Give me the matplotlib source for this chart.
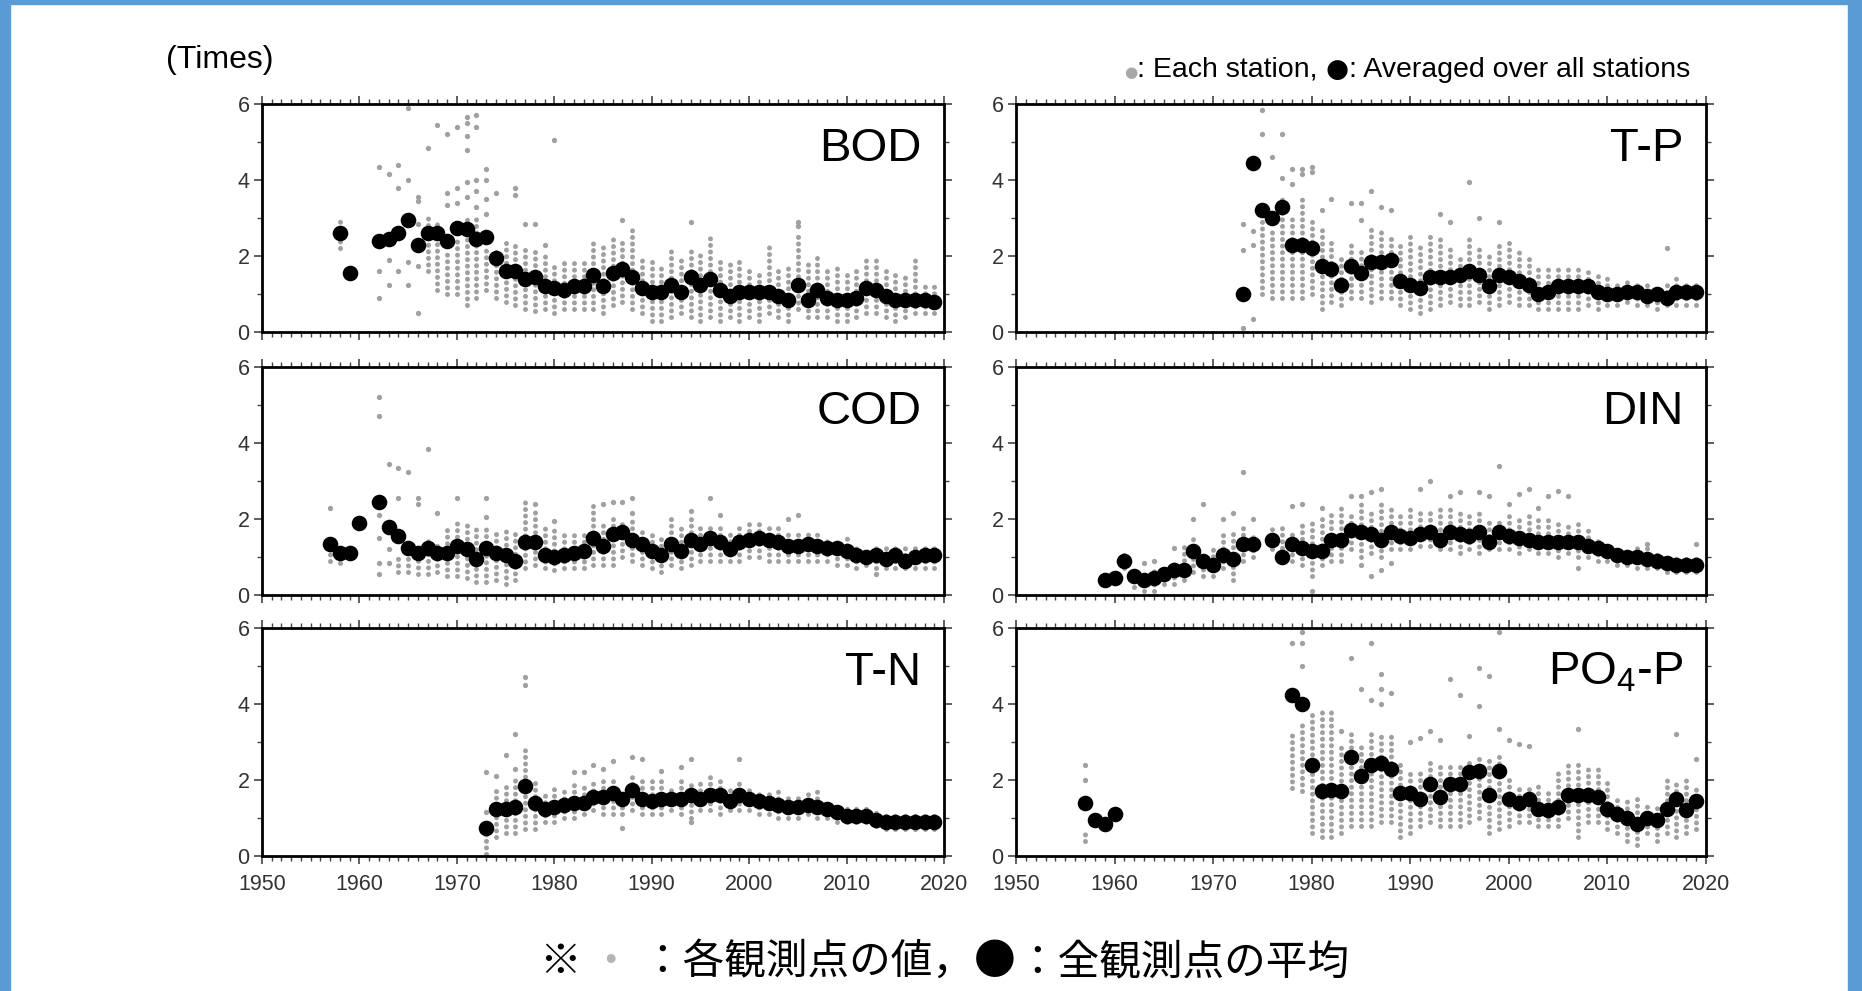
import numpy as np
import matplotlib
matplotlib.use("Agg")
import matplotlib.pyplot as plt
from matplotlib.ticker import MultipleLocator, FixedLocator
from matplotlib.patches import Rectangle

plt.rcParams['font.family'] = ['Liberation Sans', 'DejaVu Sans']
plt.rcParams['mathtext.fontset'] = 'custom'
plt.rcParams['mathtext.rm'] = 'Liberation Sans'
plt.rcParams['mathtext.it'] = 'Liberation Sans'

nan = np.nan

# ---------------- BOD ----------------
bod_years = [1958, 1959] + list(range(1962, 2020))
bod_mean = [2.6, 1.55,
            2.4, 2.45, 2.6, 2.95, 2.3, 2.6, 2.6, 2.4, 2.75, 2.7, 2.45, 2.5, 1.95, 1.6, 1.6, 1.4, 1.45, 1.2,
            1.15, 1.1, 1.2, 1.2, 1.5, 1.2, 1.55, 1.65, 1.45, 1.15,
            1.05, 1.05, 1.25, 1.05, 1.45, 1.25, 1.4, 1.1, 0.95, 1.05,
            1.05, 1.05, 1.05, 0.95, 0.85, 1.25, 0.85, 1.1, 0.9, 0.85,
            0.85, 0.9, 1.15, 1.1, 0.95, 0.85, 0.85, 0.85, 0.85, 0.8]
bod_lo = [2.2, nan,
          nan, nan, nan, nan, nan, 1.6, 1.1, 1.0, 1.0, 0.7, 0.9, 1.1, 0.9, 0.8, 0.7, 0.6, 0.55, 0.6,
          0.5, 0.6, 0.6, 0.6, 0.6, 0.5, 0.7, 0.8, 0.6, 0.5,
          0.3, 0.3, 0.4, 0.5, 0.4, 0.3, 0.4, 0.3, 0.4, 0.3,
          0.4, 0.3, 0.5, 0.4, 0.3, 0.6, 0.4, 0.4, 0.4, 0.3,
          0.3, 0.4, 0.5, 0.5, 0.4, 0.3, 0.4, 0.5, 0.5, 0.5]
bod_hi = [3.0, nan,
          nan, nan, nan, nan, nan, 3.0, 2.9, 2.1, 2.4, 3.0, 3.0, 2.3, 2.1, 2.4, 2.3, 2.2, 2.1, 2.0,
          1.8, 1.9, 1.9, 1.9, 2.5, 2.3, 2.6, 2.4, 2.7, 1.9,
          1.9, 1.8, 2.2, 1.9, 2.2, 2.1, 2.5, 2.0, 1.8, 1.9,
          1.7, 1.6, 2.3, 1.7, 1.7, 2.6, 1.8, 2.0, 1.6, 1.7,
          1.6, 1.7, 1.9, 2.0, 1.6, 1.5, 1.5, 1.9, 1.3, 1.3]
bod_out = [(1962, 4.35), (1962, 1.6), (1962, 0.9), (1963, 4.15), (1963, 1.9), (1963, 1.25),
           (1964, 4.4), (1964, 3.8), (1964, 1.6), (1965, 5.9), (1965, 4.0), (1965, 1.85), (1965, 1.25),
           (1966, 3.55), (1966, 3.45), (1966, 2.85), (1966, 1.75), (1966, 0.5),
           (1967, 4.85), (1968, 5.45), (1969, 5.2), (1969, 3.65), (1969, 3.35),
           (1970, 5.4), (1970, 3.8), (1970, 3.4),
           (1971, 5.65), (1971, 5.5), (1971, 5.15), (1971, 4.8), (1971, 3.95), (1971, 3.55),
           (1972, 5.7), (1972, 5.4), (1972, 4.0), (1972, 3.7), (1972, 3.3),
           (1973, 4.3), (1973, 4.0), (1973, 3.5), (1973, 3.1),
           (1974, 3.65), (1976, 3.8), (1976, 3.6), (1977, 2.85), (1978, 2.85), (1979, 2.3),
           (1980, 5.05), (1987, 2.95), (1994, 2.9), (2005, 2.9), (2005, 2.8)]

# ---------------- T-P ----------------
tp_years = list(range(1973, 2020))
tp_mean = [1.0, 4.45, 3.2, 3.0, 3.3, 2.3, 2.3,
           2.2, 1.75, 1.65, 1.25, 1.75, 1.55, 1.85, 1.85, 1.9, 1.35,
           1.25, 1.15, 1.45, 1.45, 1.45, 1.5, 1.6, 1.5, 1.2, 1.5,
           1.45, 1.35, 1.25, 1.0, 1.05, 1.2, 1.2, 1.2, 1.2, 1.05,
           1.0, 1.0, 1.05, 1.05, 0.95, 1.0, 0.9, 1.05, 1.05, 1.05]
tp_lo = [nan, nan, 1.0, 0.9, 0.9, 0.9, 0.9,
         1.0, 0.6, 0.8, 0.7, 0.9, 0.9, 0.8, 0.9, 0.9, 0.7,
         0.6, 0.5, 0.6, 0.7, 0.8, 0.7, 0.7, 0.8, 0.6, 0.7,
         0.8, 0.7, 0.7, 0.6, 0.6, 0.6, 0.6, 0.6, 0.7, 0.6,
         0.7, 0.7, 0.8, 0.7, 0.7, 0.6, 0.7, 0.7, 0.7, 0.7]
tp_hi = [nan, nan, 3.0, 2.8, 3.5, 3.0, 3.5,
         3.0, 2.8, 2.5, 2.0, 2.3, 2.2, 2.8, 2.7, 2.5, 2.3,
         2.6, 2.4, 2.6, 2.5, 2.2, 2.0, 2.6, 2.2, 2.1, 2.4,
         2.5, 2.2, 2.0, 1.8, 1.7, 1.8, 1.8, 1.7, 1.6, 1.5,
         1.5, 1.4, 1.4, 1.4, 1.3, 1.3, 1.4, 1.5, 1.4, 1.4]
tp_out = [(1973, 2.85), (1973, 2.15), (1973, 0.1), (1974, 2.65), (1974, 2.3), (1974, 0.35),
          (1975, 5.85), (1975, 5.2), (1976, 4.6), (1977, 5.2), (1977, 4.05),
          (1978, 4.3), (1978, 3.9), (1979, 4.3), (1979, 4.15), (1980, 4.35), (1980, 4.2),
          (1981, 3.2), (1982, 3.5), (1984, 3.4), (1985, 3.4), (1985, 2.95), (1986, 3.7),
          (1987, 3.3), (1988, 3.2), (1993, 3.1), (1994, 2.9), (1996, 3.95), (1997, 3.0),
          (1999, 2.9), (2016, 2.2)]

# ---------------- COD ----------------
cod_years = [1957, 1958, 1959, 1960] + list(range(1962, 2020))
cod_mean = [1.35, 1.1, 1.1, 1.9,
            2.45, 1.8, 1.55, 1.25, 1.1, 1.25, 1.1, 1.1,
            1.3, 1.2, 0.95, 1.25, 1.1, 1.05, 0.9, 1.4, 1.4, 1.05,
            1.0, 1.05, 1.1, 1.15, 1.5, 1.3, 1.6, 1.65, 1.45, 1.35,
            1.15, 1.05, 1.35, 1.15, 1.45, 1.35, 1.5, 1.4, 1.2, 1.4,
            1.45, 1.5, 1.45, 1.4, 1.3, 1.3, 1.35, 1.3, 1.25, 1.25,
            1.15, 1.05, 1.0, 1.05, 0.95, 1.05, 0.9, 1.0, 1.05, 1.05]
cod_lo = [0.9, 0.85, nan, nan,
          nan, nan, 0.6, 0.6, 0.55, 0.55, 0.6, 0.5,
          0.5, 0.45, 0.35, 0.35, 0.4, 0.3, 0.4, 0.7, 0.8, 0.7,
          0.65, 0.7, 0.7, 0.7, 0.8, 0.8, 0.8, 1.0, 0.9, 0.8,
          0.7, 0.6, 0.8, 0.7, 0.8, 0.9, 0.9, 0.9, 0.9, 0.9,
          1.0, 1.0, 0.9, 0.9, 0.9, 0.9, 0.9, 0.9, 0.9, 0.8,
          0.8, 0.7, 0.8, 0.7, 0.7, 0.7, 0.7, 0.7, 0.7, 0.7]
cod_hi = [1.1, 1.1, nan, nan,
          nan, nan, 1.1, 1.1, 1.0, 1.5, 1.4, 1.8,
          1.9, 1.9, 1.8, 1.8, 1.7, 1.8, 1.6, 2.5, 2.2, 1.8,
          1.7, 1.7, 1.7, 1.7, 2.5, 1.9, 2.0, 2.0, 2.0, 1.8,
          1.6, 1.6, 2.0, 1.8, 2.0, 1.9, 1.9, 1.8, 1.6, 1.8,
          2.0, 1.9, 1.9, 1.8, 1.6, 1.7, 1.7, 1.6, 1.5, 1.4,
          1.5, 1.3, 1.3, 1.3, 1.4, 1.3, 1.3, 1.4, 1.4, 1.4]
cod_out = [(1957, 2.3), (1962, 5.2), (1962, 4.7), (1962, 2.1), (1962, 1.5), (1962, 0.85), (1962, 0.55),
           (1963, 3.45), (1963, 1.2), (1963, 0.85), (1964, 3.35), (1964, 2.55), (1965, 3.25),
           (1966, 2.55), (1966, 2.4), (1967, 3.85), (1968, 2.15), (1970, 2.55),
           (1973, 2.55), (1973, 2.05), (1978, 2.4), (1980, 1.95), (1985, 2.4), (1986, 2.45),
           (1987, 2.45), (1988, 2.55), (1988, 2.15), (1994, 2.2), (1996, 2.55), (1997, 2.1),
           (2004, 2.0), (2005, 2.1), (2013, 0.55)]

# ---------------- DIN ----------------
din_years = list(range(1959, 1975)) + list(range(1976, 2020))
din_mean = [0.4, 0.45, 0.9, 0.5, 0.4, 0.45, 0.55, 0.65, 0.65, 1.15, 0.9,
            0.8, 1.05, 0.95, 1.35, 1.35,
            1.45, 1.0, 1.35, 1.25,
            1.15, 1.15, 1.45, 1.45, 1.7, 1.65, 1.6, 1.45, 1.65, 1.55,
            1.5, 1.6, 1.65, 1.45, 1.65, 1.6, 1.55, 1.65, 1.4, 1.65,
            1.55, 1.5, 1.45, 1.4, 1.4, 1.4, 1.4, 1.4, 1.3, 1.25,
            1.15, 1.05, 1.0, 1.0, 0.95, 0.9, 0.85, 0.8, 0.8, 0.8]
din_lo = [0.3, 0.4, 0.7, 0.2, 0.1, 0.1, 0.3, 0.3, 0.4, 0.6, 0.5,
          0.5, 0.7, 0.4, 0.9, 1.0,
          1.2, 0.9, 0.9, 0.8,
          0.5, 0.8, 0.9, 0.9, 1.2, 1.0, 1.1, 1.0, 1.2, 1.2,
          1.2, 1.3, 1.3, 1.2, 1.2, 1.1, 1.2, 1.1, 1.2, 1.2,
          1.2, 1.1, 1.2, 1.1, 1.1, 1.0, 1.1, 1.0, 1.0, 0.9,
          0.9, 0.8, 0.8, 0.7, 0.7, 0.7, 0.6, 0.6, 0.6, 0.6]
din_hi = [0.45, 0.5, 0.9, 0.6, 0.6, 0.7, 0.8, 0.9, 1.4, 1.5, 1.1,
          1.3, 1.6, 1.6, 1.8, 1.6,
          1.8, 1.8, 1.7, 1.9,
          2.0, 2.1, 2.2, 2.3, 2.2, 2.4, 2.3, 2.4, 2.3, 2.2,
          2.3, 2.2, 2.3, 2.3, 2.4, 2.3, 2.2, 2.3, 2.0, 2.0,
          2.1, 2.0, 2.1, 2.0, 2.0, 1.9, 1.9, 1.9, 1.7, 1.5,
          1.4, 1.3, 1.3, 1.3, 1.3, 1.2, 1.1, 1.0, 1.0, 1.1]
din_out = [(1961, 1.05), (1963, 0.85), (1964, 0.9), (1966, 1.25), (1968, 2.0), (1969, 2.4),
           (1971, 2.0), (1972, 2.15), (1973, 3.25), (1974, 2.0), (1978, 2.35), (1979, 2.4),
           (1980, 0.1), (1981, 2.3), (1984, 2.6), (1985, 2.6), (1985, 0.8), (1986, 2.7), (1986, 0.5),
           (1987, 2.8), (1987, 0.65), (1988, 0.85), (1991, 2.8), (1992, 3.0), (1994, 2.6),
           (1995, 2.7), (1997, 2.7), (1998, 2.6), (1999, 3.4), (2000, 2.4), (2001, 2.65),
           (2002, 2.8), (2003, 2.3), (2004, 2.6), (2005, 2.75), (2006, 2.6), (2007, 0.7),
           (2014, 1.35), (2019, 1.35)]

# ---------------- T-N ----------------
tn_years = list(range(1973, 2020))
tn_mean = [0.75, 1.25, 1.25, 1.3, 1.85, 1.4, 1.25,
           1.3, 1.35, 1.4, 1.4, 1.55, 1.55, 1.65, 1.5, 1.75, 1.5,
           1.45, 1.5, 1.5, 1.5, 1.6, 1.5, 1.6, 1.6, 1.45, 1.6,
           1.5, 1.45, 1.4, 1.35, 1.3, 1.3, 1.35, 1.3, 1.25, 1.15,
           1.05, 1.05, 1.05, 0.95, 0.9, 0.9, 0.9, 0.9, 0.9, 0.9]
tn_lo = [0.05, 0.5, 0.6, 0.6, 0.7, 0.7, 0.9,
         0.9, 1.0, 1.0, 1.1, 1.2, 1.1, 1.1, 1.1, 1.2, 1.1,
         1.1, 1.1, 1.2, 1.1, 1.0, 1.2, 1.2, 1.1, 1.2, 1.2,
         1.2, 1.1, 1.1, 1.0, 1.0, 1.0, 1.1, 1.0, 1.0, 0.9,
         0.9, 0.9, 0.9, 0.8, 0.7, 0.7, 0.7, 0.7, 0.7, 0.7]
tn_hi = [0.6, 1.7, 1.9, 2.0, 2.9, 2.0, 1.6,
         1.9, 1.8, 1.9, 1.9, 2.0, 2.0, 2.0, 1.8, 2.2, 2.1,
         2.0, 2.0, 1.9, 2.0, 2.0, 2.0, 2.1, 2.1, 1.9, 2.0,
         1.9, 1.8, 1.8, 1.7, 1.6, 1.6, 1.7, 1.7, 1.5, 1.4,
         1.4, 1.3, 1.3, 1.3, 1.2, 1.1, 1.1, 1.1, 1.1, 1.2]
tn_out = [(1973, 2.2), (1973, 1.15), (1974, 2.1), (1975, 2.65), (1976, 3.2), (1976, 2.3),
          (1977, 4.7), (1977, 4.5), (1982, 2.2), (1983, 2.2), (1984, 2.4), (1985, 2.3),
          (1986, 2.5), (1987, 0.75), (1988, 2.6), (1989, 2.55), (1991, 2.25), (1993, 2.35),
          (1994, 2.55), (1994, 0.9), (1999, 2.55)]

# ---------------- PO4-P ----------------
po4_years = [1957, 1958, 1959, 1960] + list(range(1978, 2020))
po4_mean = [1.4, 0.95, 0.85, 1.1,
            4.25, 4.0,
            2.4, 1.7, 1.75, 1.7, 2.6, 2.1, 2.4, 2.45, 2.3, 1.65,
            1.65, 1.5, 1.9, 1.55, 1.9, 1.9, 2.2, 2.25, 1.6, 2.25,
            1.5, 1.4, 1.5, 1.25, 1.2, 1.3, 1.6, 1.6, 1.6, 1.55,
            1.25, 1.1, 1.0, 0.85, 1.0, 0.95, 1.25, 1.5, 1.2, 1.45]
po4_lo = [0.4, nan, nan, nan,
          1.8, 1.7,
          0.6, 0.5, 0.5, 0.6, 0.8, 0.8, 0.8, 0.9, 0.9, 0.5,
          0.6, 0.8, 0.9, 0.8, 0.8, 0.8, 0.9, 1.0, 0.6, 0.7,
          0.8, 0.9, 0.9, 0.8, 0.8, 0.8, 1.0, 0.5, 0.9, 0.9,
          0.7, 0.6, 0.4, 0.3, 0.6, 0.4, 0.6, 0.5, 0.6, 0.7]
po4_hi = [0.7, nan, nan, nan,
          3.2, 3.5,
          3.8, 3.8, 3.8, 2.9, 3.3, 3.0, 3.3, 3.2, 3.2, 2.5,
          2.2, 2.2, 2.6, 2.5, 2.4, 2.5, 2.5, 2.6, 2.6, 2.7,
          2.1, 1.9, 1.8, 1.9, 1.8, 2.3, 2.5, 2.5, 2.3, 2.4,
          2.0, 1.5, 1.5, 1.5, 1.4, 1.3, 2.0, 2.0, 2.0, 1.9]
po4_out = [(1957, 2.4), (1957, 2.0), (1978, 5.6), (1979, 5.9), (1979, 5.6), (1979, 5.0),
           (1983, 3.3), (1984, 5.2), (1985, 4.4), (1986, 5.6), (1986, 4.1),
           (1987, 4.8), (1987, 4.4), (1987, 4.0), (1988, 4.3), (1990, 3.0), (1991, 3.1),
           (1992, 3.3), (1993, 3.05), (1994, 4.65), (1995, 4.25), (1996, 3.15),
           (1997, 4.95), (1997, 3.95), (1998, 4.75), (1999, 5.9), (1999, 3.35),
           (2000, 3.05), (2001, 2.95), (2002, 2.9), (2007, 3.35), (2017, 3.2), (2019, 2.55)]

GRAY = '#a0a0a0'
W, H = 1862, 991

fig = plt.figure(figsize=(W / 100, H / 100), dpi=100)
fig.patch.set_facecolor('white')

# blue frame around the picture
blue = '#5b9bd5'
fig.patches.append(Rectangle((0, 0), 10 / W, 1, transform=fig.transFigure, color=blue, zorder=0))
fig.patches.append(Rectangle((0, 1 - 4 / H), 1, 4 / H, transform=fig.transFigure, color=blue, zorder=0))
fig.patches.append(Rectangle((1 - 14 / W, 0), 14 / W, 1, transform=fig.transFigure, color=blue, zorder=0))

col_x = [262, 1016]
col_w = [682, 690]
row_top = [104, 367, 628]
row_h = 228


def draw_panel(ax, years, mean, lo, hi, out, label, show_x):
    years = np.array(years, dtype=float)
    lo = np.array(lo, dtype=float)
    hi = np.array(hi, dtype=float)
    m = ~np.isnan(lo)
    ax.vlines(years[m], lo[m], hi[m], colors=GRAY, linewidth=3.6,
              linestyles=(0, (0.01, 1.3)), capstyle='round', zorder=2)
    if out:
        ox, oy = zip(*out)
        ax.plot(ox, oy, 'o', color=GRAY, ms=3.8, mec='none', zorder=2)
    ax.plot(years, mean, 'o', color='black', ms=10.2, mec='black', zorder=3)

    ax.set_xlim(1950, 2020)
    ax.set_ylim(0, 6)
    ax.xaxis.set_major_locator(MultipleLocator(10))
    ax.xaxis.set_minor_locator(MultipleLocator(1))
    ax.yaxis.set_major_locator(FixedLocator([0, 2, 4, 6]))
    ax.yaxis.set_minor_locator(MultipleLocator(1))
    ax.tick_params(which='both', direction='out', top=True, right=True,
                   labelsize=15.5, labelcolor='#333333', color='#444444')
    ax.tick_params(which='major', length=6, width=1.2, pad=3)
    ax.tick_params(which='minor', length=3.5, width=1.0)
    ax.tick_params(axis='x', labelbottom=show_x, pad=7)
    for s in ax.spines.values():
        s.set_linewidth(2.0)
        s.set_color('black')
    ax.text(0.967, 0.75, label, transform=ax.transAxes, ha='right', va='baseline',
            fontsize=34, color='black')


panels = [
    (0, 0, bod_years, bod_mean, bod_lo, bod_hi, bod_out, 'BOD'),
    (0, 1, tp_years, tp_mean, tp_lo, tp_hi, tp_out, 'T-P'),
    (1, 0, cod_years, cod_mean, cod_lo, cod_hi, cod_out, 'COD'),
    (1, 1, din_years, din_mean, din_lo, din_hi, din_out, 'DIN'),
    (2, 0, tn_years, tn_mean, tn_lo, tn_hi, tn_out, 'T-N'),
    (2, 1, po4_years, po4_mean, po4_lo, po4_hi, po4_out, r'PO$_4$-P'),
]
for r, c, yrs, mn, lo, hi, out, lab in panels:
    ax = fig.add_axes([col_x[c] / W, 1 - (row_top[r] + row_h) / H, col_w[c] / W, row_h / H])
    draw_panel(ax, yrs, mn, lo, hi, out, lab, r == 2)

fig.text(166 / W, 1 - 68 / H, '(Times)', fontsize=23, ha='left', va='baseline')


def text_row(parts, x_px, y_px, center=False):
    # lay out coloured pieces one after another on a common baseline
    fig.canvas.draw()
    rend = fig.canvas.get_renderer()
    items = []
    for s, col, fs, fam in parts:
        t = fig.text(0, 1 - y_px / H, s, color=col, fontsize=fs, family=fam, va='baseline')
        w = t.get_window_extent(rend).width
        items.append((t, w))
    total = sum(w for _, w in items)
    x = x_px - total / 2 if center else x_px
    for t, w in items:
        t.set_x(x / W)
        x += w


sans = ['Liberation Sans', 'DejaVu Sans']
dvs = ['DejaVu Sans']
text_row([('●', '#a8a8a8', 11, dvs), (': Each station, ', 'black', 20.5, sans),
          ('●', 'black', 19, dvs), (': Averaged over all stations', 'black', 20.5, sans)],
         1124, 77)

cjk = ['Noto Sans CJK JP', 'DejaVu Sans']
text_row([('※', 'black', 30, cjk), (' ・ ', '#b5b5b5', 30, cjk),
          ('：各観測点の値，', 'black', 30, cjk), ('●', 'black', 30, cjk),
          ('：全観測点の平均', 'black', 30, cjk)],
         944, 974, center=True)

fig.savefig('out.png', dpi=100, facecolor='white')
